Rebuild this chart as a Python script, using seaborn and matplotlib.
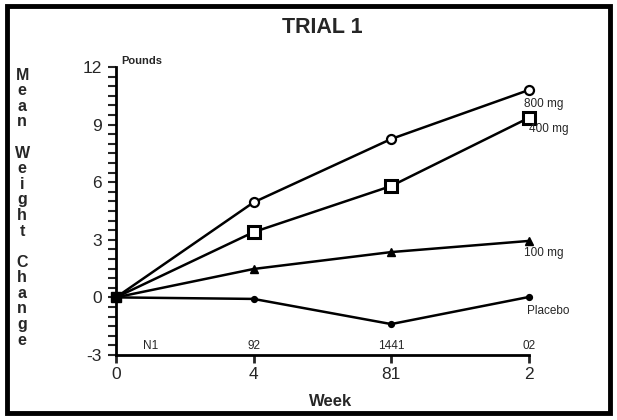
import numpy as np
import pandas as pd
import matplotlib
matplotlib.use("Agg")
import matplotlib.pyplot as plt
import seaborn as sns
from matplotlib.patches import Rectangle

# data
weeks = [0, 4, 8, 12]
week_labels = ["0", "4", "81", "2"]
n_labels = ["N1", "92", "1441", "02"]
series_names = ["800 mg", "400 mg", "100 mg", "Placebo"]
mg800 = [0, 4.95, 8.25, 10.8]
mg400 = [0, 3.4, 5.8, 9.35]
mg100 = [0, 1.48, 2.36, 2.94]
placebo = [0, -0.08, -1.39, 0.02]

df = pd.DataFrame({
    "week": weeks * 4,
    "change": mg800 + mg400 + mg100 + placebo,
    "group": sum([[name] * len(weeks) for name in series_names], []),
})

sns.set_style("white")
plt.rcParams["font.family"] = ["Liberation Sans", "DejaVu Sans"]

fig = plt.figure(figsize=(6.17, 4.2), dpi=100)
ax = fig.add_axes([0.188, 0.1548, 0.669, 0.6857])

styles = {
    "800 mg": dict(marker="o", ms=6.5, mfc="white", mew=1.6),
    "400 mg": dict(marker="s", ms=8, mfc="white", mew=2.2),
    "100 mg": dict(marker="^", ms=5.5, mfc="black", mew=1),
    "Placebo": dict(marker="o", ms=4.2, mfc="black", mew=1),
}
for name in series_names:
    sub = df[df["group"] == name]
    st = styles[name]
    sns.lineplot(data=sub.iloc[1:], x="week", y="change", ax=ax, color="black",
                 lw=1.8, marker=st["marker"], markersize=st["ms"],
                 markerfacecolor=st["mfc"], markeredgecolor="black",
                 markeredgewidth=st["mew"], clip_on=False, zorder=3)
    sns.lineplot(data=sub.iloc[:2], x="week", y="change", ax=ax, color="black",
                 lw=1.8, clip_on=False, zorder=2)

# common starting point
ax.plot(weeks[0], mg800[0], marker="s", ms=7, color="black", clip_on=False, zorder=4)

ax.set_xlim(0, 12)
ax.set_ylim(-3, 12)
ax.set_xticks(weeks)
ax.set_xticklabels(week_labels, fontsize=12.5)
ax.set_yticks([-3, 0, 3, 6, 9, 12])
ax.set_yticklabels(["-3", "0", "3", "6", "9", "12"], fontsize=12.5)
ax.set_yticks(np.arange(-3, 12.01, 0.5), minor=True)
ax.tick_params(axis="y", which="both", direction="out", length=6, width=1.5,
               left=True, pad=4)
ax.tick_params(axis="x", which="major", direction="out", length=6, width=2,
               bottom=True, pad=3)
for side in ["top", "right"]:
    ax.spines[side].set_visible(False)
for side in ["left", "bottom"]:
    ax.spines[side].set_linewidth(2)
    ax.spines[side].set_color("black")
ax.set_xlabel("")
ax.set_ylabel("")

# end labels
label_pos = {"800 mg": (11.85, 10.4), "400 mg": (12.0, 9.1), "100 mg": (11.85, 2.6),
             "Placebo": (11.95, -0.4)}
for name in series_names:
    x, y = label_pos[name]
    ax.text(x, y, name, fontsize=8.5, ha="left", va="top")

# N row
for w, n in zip(weeks, n_labels):
    xpos = 1 if w == 0 else w
    ax.text(xpos, -2.55, n, fontsize=8.5, ha="center", va="center")

ax.text(0.15, 12.3, "Pounds", fontsize=8, fontweight="bold", ha="left", va="center")

fig.text(0.522, 0.935, "TRIAL 1", fontsize=15.5, fontweight="bold", ha="center", va="center")
fig.text(0.535, 0.045, "Week", fontsize=12, fontweight="bold", ha="center", va="center")

ylabel = "Mean Weight Change"
y0, dy = 0.821, 0.0371
for i, c in enumerate(ylabel):
    if c != " ":
        fig.text(0.036, y0 - i * dy, c, fontsize=11.5, fontweight="bold",
                 ha="center", va="center")

fig.patches.append(Rectangle((0.011, 0.017), 0.977, 0.968, transform=fig.transFigure,
                             fill=False, edgecolor="black", linewidth=3.5))

plt.savefig("out.png", dpi=100)
plt.close()
